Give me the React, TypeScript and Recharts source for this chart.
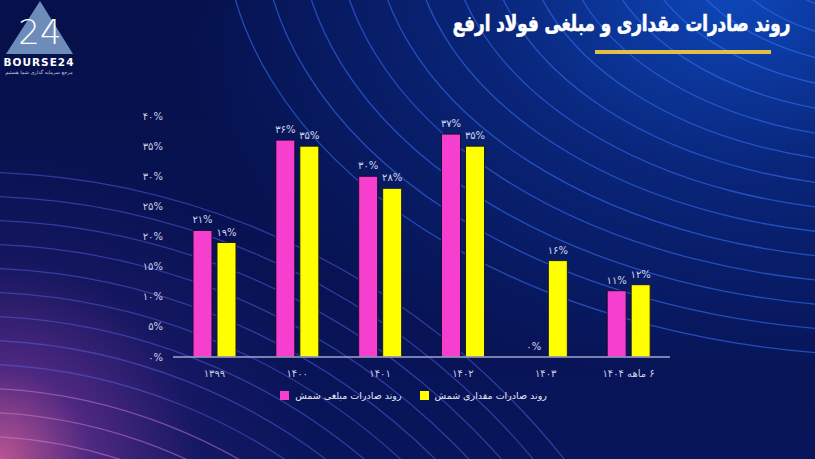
import React from 'react';
import { BarChart, Bar, XAxis, YAxis, Legend, LabelList, ReferenceDot } from 'recharts';

const categories = ['۱۳۹۹', '۱۴۰۰', '۱۴۰۱', '۱۴۰۲', '۱۴۰۳', '۶ ماهه ۱۴۰۴'];
const valueSeries = [21, 36, 30, 37, 0, 11]; // روند صادرات مبلغی شمش
const volumeSeries = [19, 35, 28, 35, 16, 12]; // روند صادرات مقداری شمش
const yTicks = [0, 5, 10, 15, 20, 25, 30, 35, 40];
const seriesNames = ['روند صادرات مبلغی شمش', 'روند صادرات مقداری شمش'];
const title = 'روند صادرات مقداری و مبلغی فولاد ارفع';

const data = categories.map((c, i) => ({ name: c, value: valueSeries[i], volume: volumeSeries[i] }));

const PINK = '#F63FCF';
const YELLOW = '#FFFF00';
const FONT = '"DejaVu Sans", sans-serif';
const LABEL_FILL = '#D6D6EC';

const fa = (n: number | string) => String(n).replace(/[0-9]/g, (d) => '۰۱۲۳۴۵۶۷۸۹'[Number(d)]);
const pct = (v: any) => `${fa(v)}%`;

const XTick = (props: any) => {
  const { x, y, payload } = props;
  return (
    <text x={x} y={y + 12} textAnchor="middle" fill="#CFCFE6" fontSize={10} fontFamily={FONT} style={{ direction: 'rtl', unicodeBidi: 'plaintext' } as any}>
      {payload.value}
    </text>
  );
};

const LegendContent = () => (
  <div style={{ display: 'flex', justifyContent: 'center', alignItems: 'center', fontFamily: FONT, fontSize: 9.5, color: '#E8E8F4', paddingLeft: 12 }}>
    <span style={{ width: 9, height: 9, background: PINK, display: 'inline-block', marginRight: 6 }} />
    <span dir="rtl" style={{ marginRight: 18 }}>{seriesNames[0]}</span>
    <span style={{ width: 9, height: 9, background: YELLOW, display: 'inline-block', marginRight: 6 }} />
    <span dir="rtl">{seriesNames[1]}</span>
  </div>
);

const topArcs = Array.from({ length: 15 }, (_, i) => 100 + i * 24);
const leftArcs = Array.from({ length: 13 }, (_, i) => 470 + i * 24);

export default function App() {
  return (
    <div
      style={{
        position: 'absolute',
        left: 0,
        top: 0,
        width: 815,
        height: 459,
        overflow: 'hidden',
        background:
          'radial-gradient(circle at 0% 100%, rgba(230,100,160,0.8) 0px, rgba(150,60,170,0.5) 90px, rgba(70,35,140,0.2) 200px, rgba(0,0,0,0) 320px), radial-gradient(ellipse 560px 380px at 90% 0%, #0e46b8 0%, rgba(11,50,150,0.6) 45%, rgba(0,0,0,0) 100%), linear-gradient(180deg, #06104a 0%, #08155a 100%)',
      }}
    >
      <svg width={815} height={459} style={{ position: 'absolute', left: 0, top: 0 }}>
        {topArcs.map((ry, i) => (
          <ellipse key={'t' + i} cx={900} cy={-80} rx={ry * 1.55} ry={ry} fill="none" stroke="#3370f5" strokeOpacity={0.6} strokeWidth={1.3} />
        ))}
        {leftArcs.map((r, i) => (
          <circle key={'l' + i} cx={-30} cy={930} r={r} fill="none" stroke={i < 4 ? '#d080d0' : '#5a60e4'} strokeOpacity={0.5} strokeWidth={1.3} />
        ))}
        {/* logo */}
        <polygon points="40,1 6,54 73,54" fill="#6d8cb9" />
        <text x={40} y={44} textAnchor="middle" fill="#ffffff" fontSize={34} fontFamily={FONT} fontWeight={300}>24</text>
        <text x={39} y={66} textAnchor="middle" fill="#ffffff" fontSize={10.5} fontFamily={FONT} fontWeight="bold" letterSpacing={1}>BOURSE24</text>
        <text x={39} y={74} textAnchor="middle" fill="#c8cce0" fontSize={5} fontFamily={FONT} style={{ direction: 'rtl' } as any}>مرجع سرمایه گذاری شما هستیم</text>
        <rect x={595} y={50} width={176} height={4} fill="#E2BE4A" />
      </svg>
      <div
        dir="rtl"
        style={{
          position: 'absolute',
          right: 25,
          top: 11,
          fontFamily: FONT,
          fontWeight: 'bold',
          fontSize: 22,
          color: '#ffffff',
          whiteSpace: 'nowrap',
          transform: 'scaleX(0.76)',
          transformOrigin: 'right center',
          WebkitTextStroke: '0.7px #ffffff',
        }}
      >
        {title}
      </div>
      <div style={{ position: 'absolute', left: 0, top: 0 }}>
        <BarChart width={815} height={459} data={data} margin={{ top: 116, right: 145, bottom: 72, left: 133 }} barSize={19} barGap={5}>
          <XAxis dataKey="name" tick={<XTick />} tickLine={false} axisLine={{ stroke: '#A3A5CC', strokeWidth: 1.5 }} height={30} interval={0} />
          <YAxis
            domain={[0, 40]}
            ticks={yTicks}
            tickFormatter={pct}
            width={40}
            axisLine={false}
            tickLine={false}
            tickSize={0}
            tickMargin={10}
            tick={{ fill: '#CFCFE6', fontSize: 10, fontFamily: FONT }}
          />
          <Legend verticalAlign="middle" content={<LegendContent />} wrapperStyle={{ position: 'absolute', top: 390, left: 0, width: 815 }} />
          <Bar dataKey="value" name={seriesNames[0]} fill={PINK} stroke="#1a0a30" strokeWidth={1} isAnimationActive={false}>
            <LabelList dataKey="value" position="top" offset={7} formatter={pct} fill={LABEL_FILL} fontSize={10} fontFamily={FONT} />
          </Bar>
          <Bar dataKey="volume" name={seriesNames[1]} fill={YELLOW} stroke="#1a1a20" strokeWidth={1} isAnimationActive={false}>
            <LabelList dataKey="volume" position="top" offset={7} formatter={pct} fill={LABEL_FILL} fontSize={10} fontFamily={FONT} />
          </Bar>
          {data
            .filter((d) => d.value === 0)
            .map((d) => (
              <ReferenceDot
                key={'z' + d.name}
                x={d.name}
                y={d.value}
                r={0}
                fill="none"
                stroke="none"
                label={{ value: pct(d.value), position: 'top', dx: -12, offset: 7, fill: LABEL_FILL, fontSize: 10, fontFamily: FONT }}
              />
            ))}
        </BarChart>
      </div>
    </div>
  );
}
